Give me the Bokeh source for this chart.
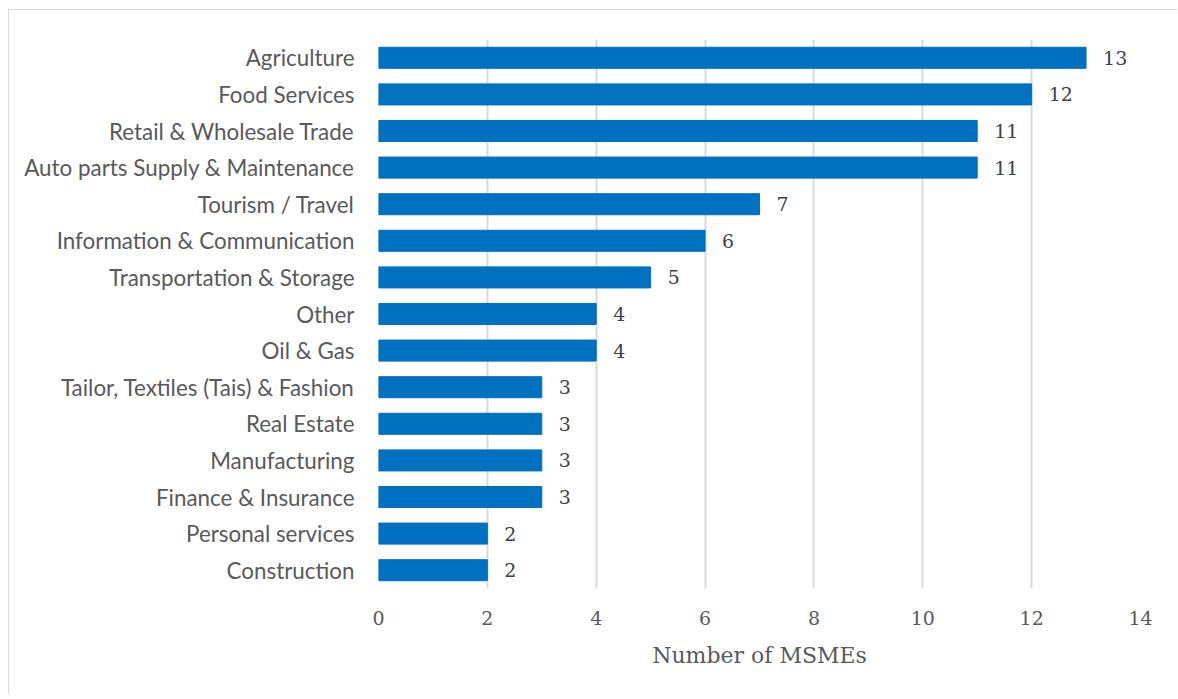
from bokeh.plotting import figure
from bokeh.models import FactorRange, Range1d, ColumnDataSource, FixedTicker, LabelSet
from bokeh.core.properties import value
from bokeh.embed import file_html
from bokeh.resources import INLINE

categories = ["Agriculture", "Food Services", "Retail & Wholesale Trade",
              "Auto parts Supply & Maintenance", "Tourism / Travel",
              "Information & Communication", "Transportation & Storage",
              "Other", "Oil & Gas", "Tailor, Textiles (Tais) & Fashion",
              "Real Estate", "Manufacturing", "Finance & Insurance",
              "Personal services", "Construction"]
counts = [13, 12, 11, 11, 7, 6, 5, 4, 4, 3, 3, 3, 3, 2, 2]
x_ticks = [0, 2, 4, 6, 8, 10, 12, 14]

src = ColumnDataSource(dict(cat=categories, n=counts, lbl=[str(v) for v in counts]))

p = figure(width=1169, height=685, output_backend="svg", toolbar_location=None,
           y_range=FactorRange(*categories[::-1], range_padding=0),
           x_range=Range1d(0, 14),
           min_border_left=369, min_border_right=38, min_border_top=29, min_border_bottom=107,
           styles={"border-left": "1px solid #d9d9d9", "border-top": "1px solid #d9d9d9",
                   "margin-left": "8px", "margin-top": "9px"})

p.hbar(y="cat", right="n", height=0.575, source=src, color="#0070C0")

labels = LabelSet(x="n", y="cat", text="lbl", source=src, x_offset=17,
                  text_align="left", text_baseline="middle",
                  text_font=value("DejaVu Serif"), text_font_size="19px", text_color="#404040")
p.add_layout(labels)

p.outline_line_color = None
p.ygrid.grid_line_color = None
p.xgrid.ticker = FixedTicker(ticks=x_ticks)
p.xgrid.grid_line_color = "#d9d9d9"
p.xgrid.grid_line_width = 2

p.xaxis.ticker = FixedTicker(ticks=x_ticks)
p.xaxis.axis_line_color = None
p.xaxis.major_tick_line_color = None
p.xaxis.minor_tick_line_color = None
p.xaxis.major_label_text_font = "DejaVu Serif"
p.xaxis.major_label_text_font_size = "19px"
p.xaxis.major_label_text_color = "#595959"
p.xaxis.major_label_standoff = 16
p.xaxis.axis_label = "Number of MSMEs"
p.xaxis.axis_label_text_font = "DejaVu Serif"
p.xaxis.axis_label_text_font_size = "22px"
p.xaxis.axis_label_text_font_style = "normal"
p.xaxis.axis_label_text_color = "#595959"
p.xaxis.axis_label_standoff = 15

p.yaxis.axis_line_color = None
p.yaxis.major_tick_line_color = None
p.yaxis.minor_tick_line_color = None
p.yaxis.major_label_text_font = "Lato"
p.yaxis.major_label_text_font_size = "22.4px"
p.yaxis.major_label_text_color = "#595959"
p.yaxis.major_label_standoff = 18

open("out.html", "w").write(file_html(p, INLINE))
